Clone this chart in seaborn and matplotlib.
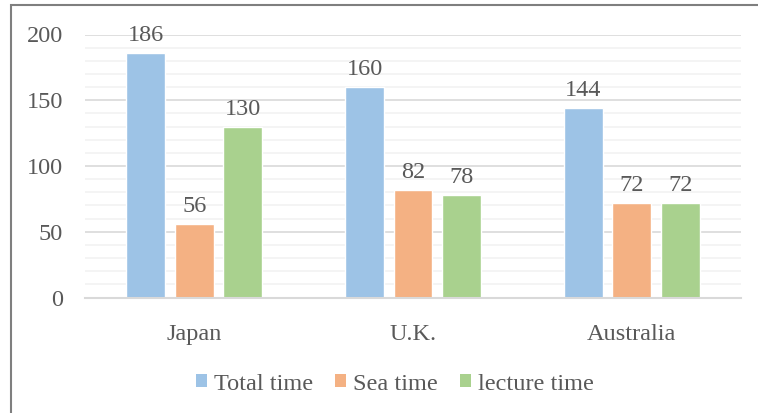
import pandas as pd
import seaborn as sns
import matplotlib.pyplot as plt
from matplotlib.patches import Patch, Rectangle
from matplotlib.ticker import MultipleLocator

countries = ["Japan", "U.K.", "Australia"]
series = ["Total time", "Sea time", "lecture time"]
total_time = [186, 160, 144]
sea_time = [56, 82, 72]
lecture_time = [130, 78, 72]
colors = ["#9DC3E6", "#F4B183", "#A9D18E"]

df = pd.DataFrame({
    "country": countries * 3,
    "series": [s for s in series for _ in countries],
    "value": total_time + sea_time + lecture_time,
})

sns.set_style("white")
plt.rcParams["font.family"] = ["Liberation Serif", "DejaVu Serif"]
text_color = "#595959"
fs = 17.5

fig = plt.figure(figsize=(7.58, 4.13), dpi=100)
ax = fig.add_axes([85 / 758, 1 - 297.5 / 413, 656 / 758, 263 / 413])

sns.barplot(data=df, x="country", y="value", hue="series", palette=colors,
            width=0.665, gap=0.2, saturation=1, ax=ax, legend=False)

ax.set_xlim(-0.5, 2.5)
ax.set_ylim(0, 200)
ax.yaxis.set_major_locator(MultipleLocator(50))
ax.yaxis.set_minor_locator(MultipleLocator(10))
ax.grid(axis="y", which="major", color="#D9D9D9", lw=1.2)
ax.grid(axis="y", which="minor", color="#F2F2F2", lw=1.2)
ax.set_axisbelow(True)
for s in ["left", "right", "top"]:
    ax.spines[s].set_visible(False)
ax.spines["bottom"].set_color("#D9D9D9")
ax.spines["bottom"].set_linewidth(1.5)

ax.tick_params(axis="both", which="both", length=0, labelsize=fs, labelcolor=text_color)
ax.tick_params(axis="x", pad=19)
ax.tick_params(axis="y", pad=16)
ax.set_xlabel("")
ax.set_ylabel("")

for c in ax.containers:
    ax.bar_label(c, padding=5, fontsize=fs, color=text_color)

handles = [Patch(facecolor=col, edgecolor="none", label=s) for col, s in zip(colors, series)]
fig.legend(handles=handles, loc="center", bbox_to_anchor=(395 / 758, 1 - 384 / 413),
           ncol=3, frameon=False, fontsize=fs, labelcolor=text_color,
           handlelength=0.45, handleheight=0.45, handletextpad=0.3, columnspacing=0.9)

fig.patches.append(Rectangle((10.5 / 758, -0.1), 1.2, 1.1 - 4.5 / 413,
                             transform=fig.transFigure, fill=False,
                             edgecolor="#7F7F7F", lw=1.5, clip_on=False))

fig.savefig("out.png", dpi=100)
